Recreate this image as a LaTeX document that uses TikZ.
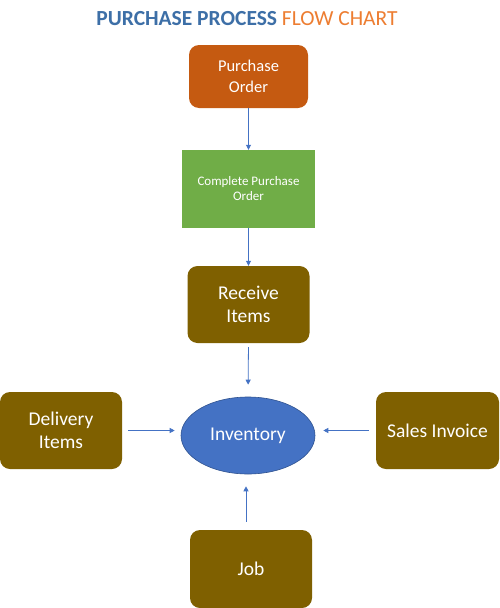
\documentclass[tikz,border=0pt]{standalone}
\usepackage{fontspec}
\setmainfont{Carlito}
\usetikzlibrary{shapes.geometric,arrows.meta}
\definecolor{titleblue}{HTML}{3D6FA7}
\definecolor{titleorange}{HTML}{ED7D31}
\definecolor{poorange}{HTML}{C55A11}
\definecolor{cpogreen}{HTML}{70AD47}
\definecolor{olivebox}{HTML}{7F6000}
\definecolor{invblue}{HTML}{4472C4}
\definecolor{invborder}{HTML}{2F528F}
\definecolor{arrowblue}{HTML}{4472C4}
\begin{document}
\begin{tikzpicture}[x=1pt,y=-1pt,
  boxbase/.style={rectangle, rounded corners=10pt, text=white, align=center, inner sep=0pt},
  olive/.style={boxbase, fill=olivebox, minimum width=122pt, minimum height=77pt, font=\fontsize{19.5}{23}\selectfont},
  flowarrow/.style={draw=arrowblue, line width=0.8pt, -{Triangle[length=5pt,width=5pt]}}
]
\useasboundingbox (0,0) rectangle (500,608);
\fill[white] (0,0) rectangle (500,608);

\node (title) at (247,19) {\fontsize{21.5}{25}\selectfont\textbf{\textcolor{titleblue}{PURCHASE PROCESS}} \textcolor{titleorange}{FLOW CHART}};

\node[boxbase, fill=poorange, minimum width=119pt, minimum height=63pt, font=\fontsize{16.5}{21}\selectfont] (po) at (248.5,76.5) {Purchase\\Order};
\node[boxbase, rounded corners=0pt, fill=cpogreen, minimum width=133pt, minimum height=78pt, font=\fontsize{13}{15}\selectfont] (cpo) at (248.5,189) {Complete Purchase\\Order};
\node[olive] (ri) at (248.5,304.5) {Receive\\Items};
\node[ellipse, fill=invblue, draw=invborder, line width=0.6pt, minimum width=134pt, minimum height=77pt, inner sep=0pt, text=white, font=\fontsize{19.5}{23}\selectfont] (inv) at (248,435.5) {Inventory};
\node[olive] (di) at (61,430.5) {Delivery\\Items};
\node[olive, minimum width=123pt] (si) at (437.5,430.5) {Sales Invoice};
\node[olive, minimum height=78pt] (job) at (251,569) {Job};

\draw[flowarrow] (po.south) -- (cpo.north);
\draw[flowarrow] (cpo.south) -- (ri.north);
\draw[flowarrow, shorten <=4pt, shorten >=12pt] (ri.south) -- (inv.north);
\draw[flowarrow, shorten <=6pt, shorten >=6pt] (di.east) -- (inv.west |- di.east);
\draw[flowarrow, shorten <=7pt, shorten >=8pt] (si.west) -- (inv.east |- si.west);
\draw[flowarrow, shorten <=8pt, shorten >=12pt] (job.north -| 246,0) -- (inv.south -| 246,0);
\end{tikzpicture}
\end{document}
